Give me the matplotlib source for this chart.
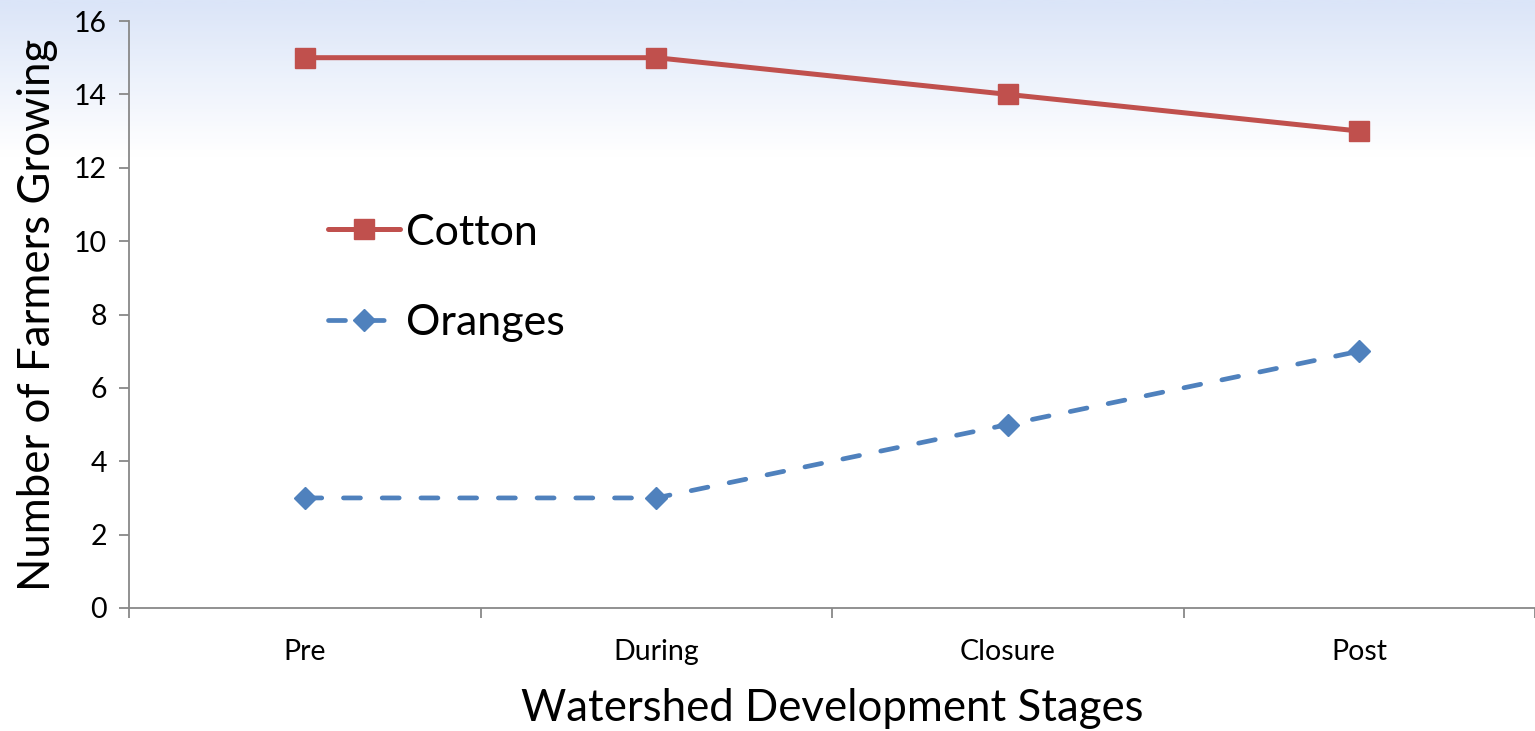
import numpy as np
import matplotlib.pyplot as plt
from matplotlib.colors import LinearSegmentedColormap

stages = ["Pre", "During", "Closure", "Post"]
cotton = [15, 15, 14, 13]
oranges = [3, 3, 5, 7]
yticks = [0, 2, 4, 6, 8, 10, 12, 14, 16]

plt.rcParams['font.family'] = ['Lato', 'DejaVu Sans']

fig = plt.figure(figsize=(15.35, 7.31), dpi=100)

# light blue gradient at the top of the slide
bg = fig.add_axes([0, 0, 1, 1], zorder=-1)
grad = np.linspace(0, 1, 300).reshape(-1, 1)
cmap = LinearSegmentedColormap.from_list("bg", [(0, "#dbe5f8"), (0.21, "#ffffff"), (1, "#ffffff")])
bg.imshow(grad, aspect="auto", cmap=cmap, extent=[0, 1, 0, 1], origin="upper")
bg.axis("off")

ax = fig.add_axes([129 / 1535, 123 / 731, 1 - 129 / 1535, 587 / 731])
ax.patch.set_alpha(0)
x = np.arange(len(stages))

ax.plot(x, cotton, color="#c0504d", lw=3.6, marker="s", ms=14, label="Cotton",
        solid_capstyle="round")
ax.plot(x, oranges, color="#4f81bd", lw=3.4, ls=(0, (3.6, 4.6)), marker="D", ms=11,
        label="Oranges", dash_capstyle="round")

ax.set_xlim(-0.5, 3.5)
ax.set_ylim(0, 16)
ax.set_yticks(yticks)
ax.set_xticks(x)
ax.set_xticklabels(stages)
ax.set_xticks(np.arange(-0.5, 3.6, 1), minor=True)
ax.tick_params(axis="x", which="major", length=0, labelsize=20.5, pad=22)
ax.tick_params(axis="x", which="minor", length=7, color="#888888", width=1.3)
ax.tick_params(axis="y", length=7, color="#888888", width=1.3, labelsize=20.5, pad=9)

for s in ["top", "right"]:
    ax.spines[s].set_visible(False)
for s in ["left", "bottom"]:
    ax.spines[s].set_color("#888888")
    ax.spines[s].set_linewidth(1.3)

ax.set_xlabel("Watershed Development Stages", fontsize=31.5, labelpad=17)
ax.set_ylabel("Number of Farmers Growing", fontsize=31.5, labelpad=11)

ax.legend(loc="upper left", bbox_to_anchor=(0.114, 0.738), frameon=False, fontsize=31,
          handlelength=1.67, handletextpad=0.15, labelspacing=1.22)

fig.savefig("out.png", dpi=100)
